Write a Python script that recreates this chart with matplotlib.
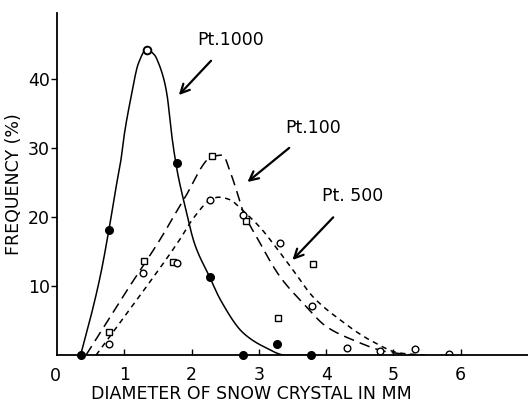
import numpy as np
import matplotlib
matplotlib.use("Agg")
import matplotlib.pyplot as plt

# ---------------- data ----------------
# Pt.1000 observations (filled dots) and peak (open circle)
p1000_x = [0.35, 0.77, 1.79, 2.27, 2.77, 3.27, 3.78]
p1000_y = [0.0, 18.1, 27.8, 11.3, 0.0, 1.6, 0.0]
p1000_open_x = [1.33]
p1000_open_y = [44.2]
# Pt.100 observations (open squares)
p100_x = [0.77, 1.29, 1.72, 2.31, 2.81, 3.29, 3.81]
p100_y = [3.3, 13.6, 13.5, 28.8, 19.4, 5.4, 13.2]
# Pt.500 observations (open circles)
p500_x = [0.77, 1.28, 1.79, 2.28, 2.77, 3.32, 3.79, 4.31, 4.80, 5.32, 5.82]
p500_y = [1.6, 11.9, 13.4, 22.5, 20.3, 16.2, 7.2, 1.0, 0.6, 0.9, 0.1]

# hand-drawn fitted curves (knots)
c1000_x = [0.35, 0.50, 0.65, 0.77, 0.88, 0.95, 1.00, 1.10, 1.21, 1.33, 1.45, 1.51, 1.59, 1.64, 1.69, 1.75, 1.80, 1.88, 2.05, 2.27, 2.43, 2.77, 3.08, 3.40, 3.80]
c1000_y = [0.0, 5.5, 11.8, 18.1, 24.5, 28.3, 32.0, 37.4, 42.3, 44.3, 43.5, 42.3, 39.9, 37.4, 33.0, 28.8, 26.0, 22.5, 16.0, 11.3, 8.0, 3.2, 1.2, 0.0, 0.0]
c100_x = [0.43, 1.00, 1.54, 1.88, 2.31, 2.46, 2.58, 2.68, 2.76, 2.98, 3.32, 3.66, 4.01, 4.40, 4.90, 5.30]
c100_y = [0.0, 8.8, 16.9, 22.5, 28.8, 29.0, 26.4, 23.5, 21.0, 16.9, 11.3, 7.5, 4.1, 2.2, 0.5, 0.0]
c500_x = [0.58, 1.20, 1.82, 2.03, 2.28, 2.40, 2.58, 2.70, 3.02, 3.21, 3.51, 3.81, 4.21, 4.65, 5.10, 5.50]
c500_y = [0.0, 8.2, 16.7, 19.9, 22.5, 22.9, 22.5, 21.5, 18.5, 16.2, 12.3, 8.4, 5.1, 2.2, 0.3, 0.0]

xticks = [1, 2, 3, 4, 5, 6]
yticks = [10, 20, 30, 40]


def pchip(xk, yk, xs):
    xk = np.asarray(xk, float); yk = np.asarray(yk, float)
    h = np.diff(xk); d = np.diff(yk) / h
    n = len(xk); m = np.zeros(n)
    for i in range(1, n - 1):
        if d[i - 1] * d[i] > 0:
            w1 = 2 * h[i] + h[i - 1]; w2 = h[i] + 2 * h[i - 1]
            m[i] = (w1 + w2) / (w1 / d[i - 1] + w2 / d[i])
    m[0] = d[0]; m[-1] = d[-1]
    idx = np.clip(np.searchsorted(xk, xs) - 1, 0, n - 2)
    t = (xs - xk[idx]) / h[idx]
    h00 = 2 * t**3 - 3 * t**2 + 1; h10 = t**3 - 2 * t**2 + t
    h01 = -2 * t**3 + 3 * t**2; h11 = t**3 - t**2
    return h00 * yk[idx] + h10 * h[idx] * m[idx] + h01 * yk[idx + 1] + h11 * h[idx] * m[idx + 1]


plt.rcParams['font.family'] = ['DejaVu Sans']
fig = plt.figure(figsize=(5.28, 4.05), dpi=100)
ax = fig.add_axes([0.108, 0.123, 0.892, 0.845])

for cx, cy, ls in [(c1000_x, c1000_y, '-'),
                   (c100_x, c100_y, (0, (7, 4))),
                   (c500_x, c500_y, (0, (3.5, 3)))]:
    xs = np.linspace(cx[0], cx[-1], 600)
    ax.plot(xs, pchip(cx, cy, xs), color='black', lw=1.1, linestyle=ls)

ax.plot(p1000_x, p1000_y, 'o', ms=5.5, color='black', clip_on=False)
ax.plot(p1000_open_x, p1000_open_y, 'o', ms=5.5, mfc='white', mec='black', mew=1.4)
ax.plot(p100_x, p100_y, 's', ms=4.5, mfc='white', mec='black', mew=1.0)
ax.plot(p500_x, p500_y, 'o', ms=4.8, mfc='white', mec='black', mew=1.0)

ax.set_xlim(0, 7.0)
ax.set_ylim(0, 49.6)
ax.set_xticks(xticks)
ax.set_yticks(yticks)
ax.tick_params(axis='x', direction='in', length=4, width=1, labelsize=12.5, pad=8)
ax.tick_params(axis='y', direction='out', length=4, width=1, labelsize=12.5, pad=1)
for s in ['top', 'right']:
    ax.spines[s].set_visible(False)
for s in ['left', 'bottom']:
    ax.spines[s].set_linewidth(1.3)
ax.text(-0.02, -1.7, '0', ha='center', va='top', fontsize=12.5)

ax.set_ylabel('FREQUENCY (%)', fontsize=12.5, labelpad=4)
fig.text(0.477, 0.006, 'DIAMETER OF SNOW CRYSTAL IN MM', ha='center', va='bottom', fontsize=12.5)

arrow = dict(arrowstyle='->', lw=1.6, color='black', mutation_scale=16)
ax.annotate('Pt.1000', xy=(1.81, 37.7), xytext=(2.58, 45.7), ha='center', va='center',
            fontsize=12.5, arrowprops=dict(arrow, shrinkA=9, shrinkB=0))
ax.annotate('Pt.100', xy=(2.83, 25.1), xytext=(3.81, 32.9), ha='center', va='center',
            fontsize=12.5, arrowprops=dict(arrow, shrinkA=9, shrinkB=0))
ax.annotate('Pt. 500', xy=(3.50, 13.8), xytext=(4.40, 23.0), ha='center', va='center',
            fontsize=12.5, arrowprops=dict(arrow, shrinkA=9, shrinkB=0))

fig.savefig('out.png', dpi=100)
